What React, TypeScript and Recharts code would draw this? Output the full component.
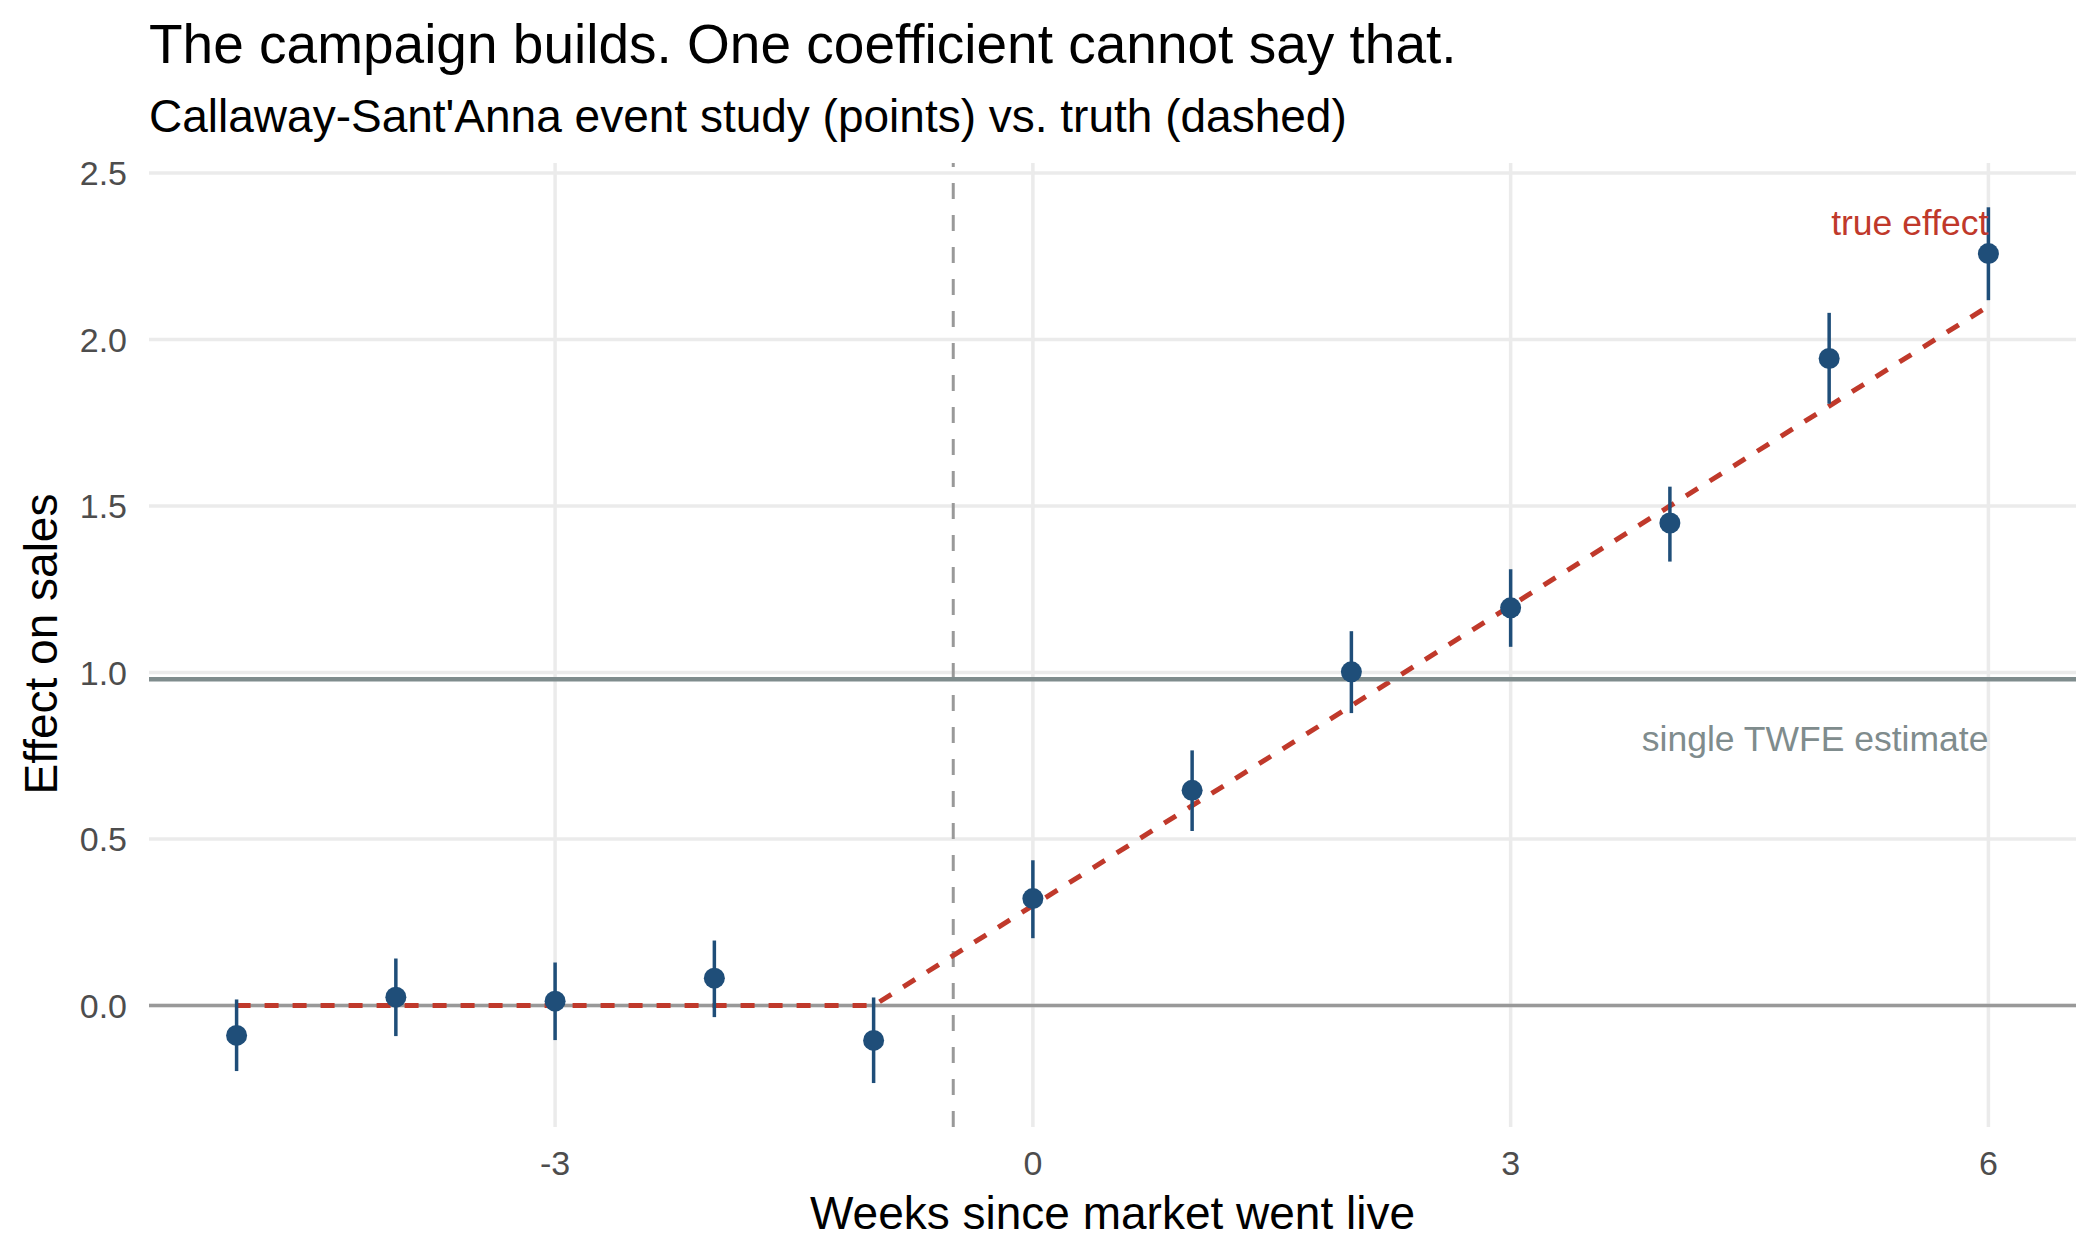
import React from 'react';
import {
  ComposedChart,
  XAxis,
  YAxis,
  CartesianGrid,
  Scatter,
  ErrorBar,
  Line,
  ReferenceLine,
  ReferenceDot,
} from 'recharts';

// ---- data ----
const weeks = [-5, -4, -3, -2, -1, 0, 1, 2, 3, 4, 5, 6];
const estimates = [-0.09, 0.025, 0.013, 0.082, -0.105, 0.321, 0.646, 1.002, 1.194, 1.449, 1.943, 2.258];
const ciLow = [-0.197, -0.092, -0.104, -0.035, -0.233, 0.202, 0.524, 0.878, 1.077, 1.333, 1.807, 2.118];
const ciHigh = [0.018, 0.141, 0.129, 0.195, 0.024, 0.436, 0.766, 1.124, 1.31, 1.558, 2.08, 2.397];
const trueEffect = [0, 0, 0, 0, 0, 0.3, 0.6, 0.9, 1.2, 1.5, 1.8, 2.1];
const xTicks = [-3, 0, 3, 6];
const yTicks = [0, 0.5, 1, 1.5, 2, 2.5];
const twfeEstimate = 0.98;
const treatmentStart = -0.5;
const xDomain = [-5.55, 6.55];
const yDomain = [-0.365, 2.53];
const trueLabel = { x: 6, y: 2.35, text: 'true effect' };
const twfeLabel = { x: 6, y: 0.8, text: 'single TWFE estimate' };

const titleText = 'The campaign builds. One coefficient cannot say that.';
const subtitleText = "Callaway-Sant'Anna event study (points) vs. truth (dashed)";
const xTitle = 'Weeks since market went live';
const yTitle = 'Effect on sales';

const estData = weeks.map((w, i) => ({
  week: w,
  estimate: estimates[i],
  err: [estimates[i] - ciLow[i], ciHigh[i] - estimates[i]],
}));
const truthData = weeks.map((w, i) => ({ week: w, effect: trueEffect[i] }));

const FONT = '"Liberation Sans", Arial, Helvetica, sans-serif';
const NAVY = '#1F4E79';
const RED = '#C0392B';
const SLATE = '#7F8C8D';

const W = 2100;
const H = 1260;

const makeTextShape = (text: string, color: string) => (props: any) => (
  <text
    x={props.cx}
    y={props.cy}
    dy="0.35em"
    textAnchor="end"
    fill={color}
    fontSize={35.5}
    fontFamily={FONT}
  >
    {text}
  </text>
);

const PointShape = (props: any) => (
  <circle cx={props.cx} cy={props.cy} r={10.5} fill={NAVY} />
);

export default function App() {
  return (
    <div style={{ position: 'absolute', left: 0, top: 0, width: W, height: H, background: '#fff' }}>
      <ComposedChart
        width={W}
        height={H}
        margin={{ top: 163, right: 24, bottom: 0, left: 0 }}
        style={{ fontFamily: FONT }}
      >
        <CartesianGrid
          stroke="#EBEBEB"
          strokeWidth={3.5}
          horizontalValues={yTicks}
          verticalValues={xTicks}
        />
        <XAxis
          type="number"
          dataKey="week"
          domain={xDomain}
          allowDataOverflow
          ticks={xTicks}
          height={133}
          axisLine={false}
          tickLine={false}
          tickSize={0}
          tickMargin={24}
          tick={{ fontSize: 34, fill: '#4D4D4D', fontFamily: FONT }}
        />
        <YAxis
          type="number"
          domain={yDomain}
          allowDataOverflow
          ticks={yTicks}
          width={149}
          axisLine={false}
          tickLine={false}
          tickSize={0}
          tickMargin={22}
          tickFormatter={(v: number) => v.toFixed(1)}
          tick={{ fontSize: 34, fill: '#4D4D4D', fontFamily: FONT }}
        />
        <ReferenceLine y={0} stroke="#999999" strokeWidth={3.5} />
        <ReferenceLine x={treatmentStart} stroke="#999999" strokeWidth={3} strokeDasharray="16 16" />
        <Line
          data={truthData}
          dataKey="effect"
          type="linear"
          stroke={RED}
          strokeWidth={5}
          strokeDasharray="14 14"
          dot={false}
          activeDot={false}
          isAnimationActive={false}
        />
        <Scatter data={estData} dataKey="estimate" shape={PointShape} isAnimationActive={false}>
          <ErrorBar dataKey="err" direction="y" width={0} stroke={NAVY} strokeWidth={3.5} />
        </Scatter>
        <ReferenceLine y={twfeEstimate} stroke={SLATE} strokeWidth={4.5} />
        <ReferenceDot x={trueLabel.x} y={trueLabel.y} r={1} shape={makeTextShape(trueLabel.text, RED)} />
        <ReferenceDot x={twfeLabel.x} y={twfeLabel.y} r={1} shape={makeTextShape(twfeLabel.text, SLATE)} />
      </ComposedChart>
      <svg
        width={W}
        height={H}
        style={{ position: 'absolute', left: 0, top: 0, pointerEvents: 'none' }}
      >
        <text x={149} y={63} fontSize={55} fontFamily={FONT} fill="#000">{titleText}</text>
        <text x={149} y={132} fontSize={46} fontFamily={FONT} fill="#000">{subtitleText}</text>
        <text x={1112.5} y={1229} fontSize={46} fontFamily={FONT} fill="#000" textAnchor="middle">{xTitle}</text>
        <text
          x={0}
          y={0}
          fontSize={46}
          fontFamily={FONT}
          fill="#000"
          textAnchor="middle"
          transform="translate(57,644) rotate(-90)"
        >
          {yTitle}
        </text>
      </svg>
    </div>
  );
}
